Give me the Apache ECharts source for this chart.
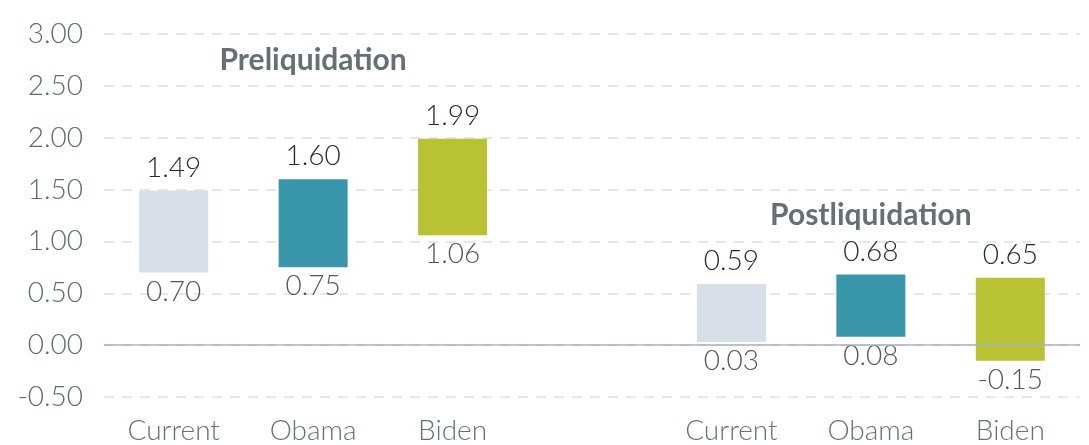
<!DOCTYPE html>
<html>
<head>
<meta charset="utf-8">
<script src="https://cdn.jsdelivr.net/npm/echarts@6/dist/echarts.min.js"></script>
<style>
html,body{margin:0;padding:0;background:#fff;}
#chart{width:1089px;height:445px;}
</style>
</head>
<body>
<div id="chart"></div>
<script>
// Data
var categories = ['Current', 'Obama', 'Biden', '', 'Current', 'Obama', 'Biden'];
var lowValues  = [0.70, 0.75, 1.06, null, 0.03, 0.08, -0.15];
var highValues = [1.49, 1.60, 1.99, null, 0.59, 0.68, 0.65];
var barColors  = ['#d7dfe8', '#3a97aa', '#b8c232', null, '#d7dfe8', '#3a97aa', '#b8c232'];
var yTicks = { min: -0.5, max: 3.0, interval: 0.5 };
var groupTitles = [
  { text: 'Preliquidation', category: 1, value: 2.75 },
  { text: 'Postliquidation', category: 5, value: 1.25 }
];

var FONT = 'Lato';

var baseData = lowValues.map(function (v) { return v; });
var spanData = highValues.map(function (h, i) {
  if (h === null) return null;
  return {
    value: +(h - lowValues[i]).toFixed(4),
    itemStyle: { color: barColors[i] },
    label: { formatter: h.toFixed(2) }
  };
});
var lowPoints = lowValues.map(function (v, i) {
  return v === null ? null : [i, v];
});
var titlePoints = groupTitles.map(function (t) {
  return { value: [t.category, t.value], name: t.text };
});

var chart = echarts.init(document.getElementById('chart'), null, { renderer: 'canvas' });
chart.setOption({
  animation: false,
  grid: { left: 104, right: 9, top: 34, bottom: 47, containLabel: false },
  xAxis: {
    type: 'category',
    data: categories,
    axisLine: { show: false },
    axisTick: { show: false },
    axisLabel: {
      color: '#63737b',
      fontFamily: FONT,
      fontWeight: 300,
      fontSize: 28,
      margin: 20
    },
    splitLine: { show: false }
  },
  yAxis: {
    type: 'value',
    min: yTicks.min,
    max: yTicks.max,
    interval: yTicks.interval,
    axisLine: { show: false },
    axisTick: { show: false },
    axisLabel: {
      color: '#5b6c74',
      fontFamily: FONT,
      fontWeight: 300,
      fontSize: 28,
      margin: 21,
      formatter: function (v) { return v.toFixed(2); }
    },
    splitLine: {
      show: true,
      lineStyle: { color: '#d9e1ea', type: [10, 8], width: 1.5 }
    }
  },
  series: [
    {
      type: 'bar',
      stack: 'range',
      stackStrategy: 'all',
      data: baseData,
      barWidth: 69,
      itemStyle: { color: 'transparent' },
      silent: true,
      markLine: {
        silent: true,
        symbol: 'none',
        label: { show: false },
        lineStyle: { color: '#a8b3ba', type: 'solid', width: 1.5 },
        data: [{ yAxis: 0 }]
      }
    },
    {
      type: 'bar',
      stack: 'range',
      stackStrategy: 'all',
      data: spanData,
      barWidth: 69,
      label: {
        show: true,
        position: 'top',
        distance: 9,
        color: '#252d33',
        fontFamily: FONT,
        fontWeight: 300,
        fontSize: 28
      }
    },
    {
      type: 'scatter',
      data: lowPoints,
      symbolSize: 0,
      label: {
        show: true,
        position: 'bottom',
        distance: 5,
        color: '#252d33',
        fontFamily: FONT,
        fontWeight: 300,
        fontSize: 28,
        formatter: function (p) { return p.value[1].toFixed(2); }
      }
    },
    {
      type: 'scatter',
      data: titlePoints,
      symbolSize: 0,
      label: {
        show: true,
        position: 'inside',
        color: '#3f4c54',
        fontFamily: FONT,
        fontWeight: 'bold',
        fontSize: 30,
        formatter: function (p) { return p.name; }
      }
    }
  ]
});
</script>
</body>
</html>
